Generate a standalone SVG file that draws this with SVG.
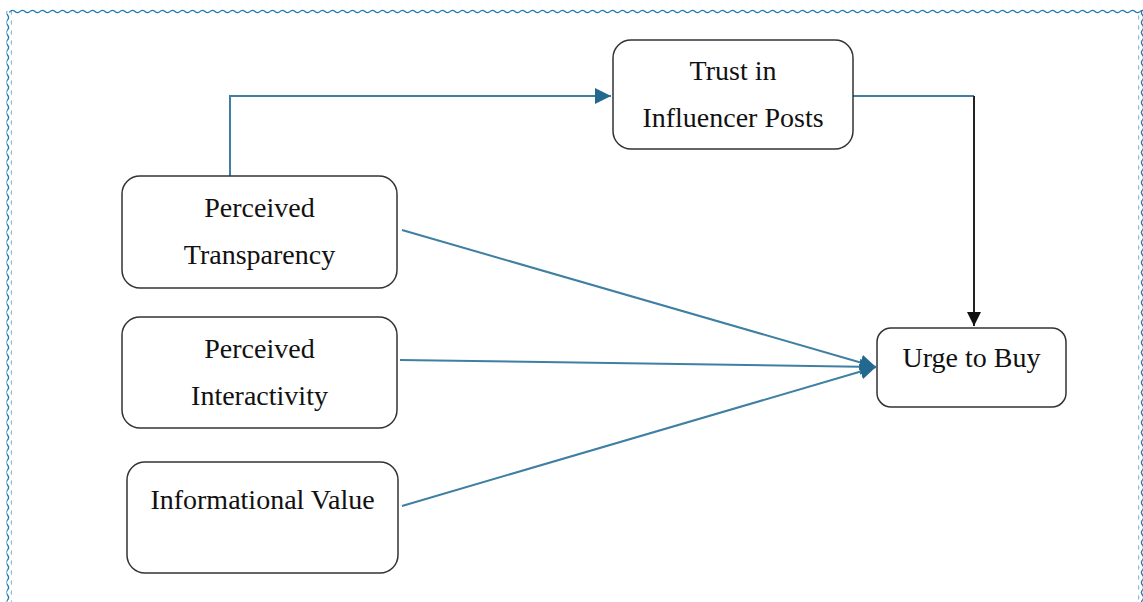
<svg xmlns="http://www.w3.org/2000/svg" width="1143" height="602" viewBox="0 0 1143 602">
<style>
.node{fill:#fff;stroke:#333;stroke-width:1.5}
.lbl{font-family:"Liberation Serif","Times New Roman",serif;font-size:28px;fill:#111;text-anchor:middle}
.c{fill:none;stroke:#3f7fa3;stroke-width:2}
.k{fill:none;stroke:#222;stroke-width:2}
</style>
<defs>
<pattern id="wh" patternUnits="userSpaceOnUse" x="0" y="9" width="10" height="5">
<path d="M0,2.5 Q2.5,0.3 5,2.5 T10,2.5" fill="none" stroke="#1f7bb0" stroke-width="1.3"/>
</pattern>
<pattern id="wv" patternUnits="userSpaceOnUse" x="0" y="0" width="5" height="10">
<path d="M2.5,0 Q0.3,2.5 2.5,5 T2.5,10" fill="none" stroke="#1f7bb0" stroke-width="1.3"/>
</pattern>
<marker id="ab2" viewBox="0 0 10 10" refX="10" refY="5" markerWidth="16" markerHeight="16" markerUnits="userSpaceOnUse" orient="auto">
<path d="M0,0 L10,5 L0,10 z" fill="#23698f"/>
</marker>
<marker id="ak" viewBox="0 0 10 10" refX="10" refY="5" markerWidth="14" markerHeight="14" markerUnits="userSpaceOnUse" orient="auto">
<path d="M0,0 L10,5 L0,10 z" fill="#111"/>
</marker>
</defs>
<rect width="1143" height="602" fill="#fff"/>
<g id="frame">
<rect x="9" y="9" width="1134" height="5" fill="url(#wh)"/>
<rect x="6.5" y="11" width="5" height="591" fill="url(#wv)"/>
<rect x="1138.5" y="11" width="5" height="591" fill="url(#wv)"/>
</g>
<g id="connectors">
<path class="c" d="M230,176 V96 H611" marker-end="url(#ab2)"/>
<path class="c" d="M853,96 H974"/>
<path class="k" d="M974,96 V326" marker-end="url(#ak)"/>
<path class="c" d="M402,230 L876,367" marker-end="url(#ab2)"/>
<path class="c" d="M400,360 L876,367" marker-end="url(#ab2)"/>
<path class="c" d="M402,506 L876,367" marker-end="url(#ab2)"/>
</g>
<g id="trust">
<rect class="node" x="613" y="40" width="240" height="109" rx="18"/>
<text class="lbl" x="733" y="80">Trust in</text>
<text class="lbl" x="733" y="127">Influencer Posts</text>
</g>
<g id="transparency">
<rect class="node" x="122" y="176" width="275" height="112" rx="18"/>
<text class="lbl" x="259.5" y="217">Perceived</text>
<text class="lbl" x="259.5" y="264">Transparency</text>
</g>
<g id="interactivity">
<rect class="node" x="122" y="317" width="275" height="111" rx="18"/>
<text class="lbl" x="259.5" y="358">Perceived</text>
<text class="lbl" x="259.5" y="405">Interactivity</text>
</g>
<g id="informational">
<rect class="node" x="127" y="462" width="271" height="111" rx="18"/>
<text class="lbl" x="262.5" y="509">Informational Value</text>
</g>
<g id="urge">
<rect class="node" x="877" y="328" width="189" height="79" rx="14"/>
<text class="lbl" x="971.5" y="367">Urge to Buy</text>
</g>
</svg>
